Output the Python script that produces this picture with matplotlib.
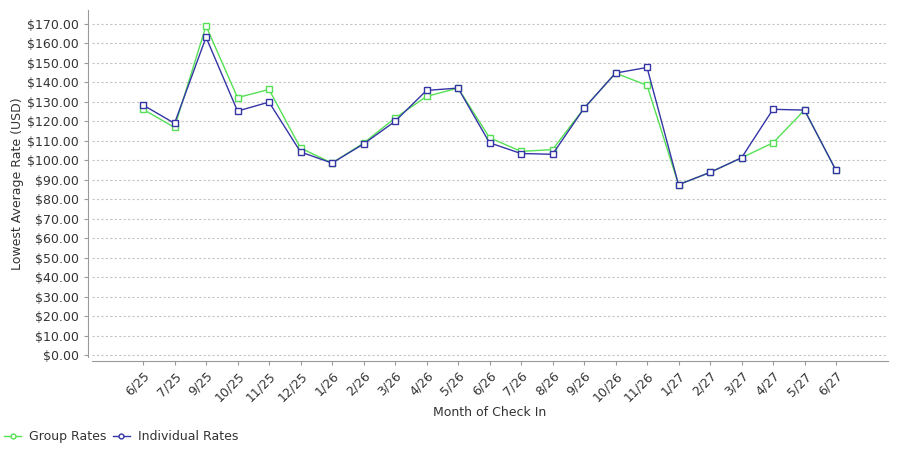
import matplotlib
matplotlib.use('Agg')
import matplotlib.pyplot as plt
from matplotlib.lines import Line2D
from matplotlib.ticker import FuncFormatter, MultipleLocator

months = ['6/25', '7/25', '9/25', '10/25', '11/25', '12/25', '1/26', '2/26', '3/26',
          '4/26', '5/26', '6/26', '7/26', '8/26', '9/26', '10/26', '11/26', '1/27',
          '2/27', '3/27', '4/27', '5/27', '6/27']
group_rates = [126.2, 116.9, 169.0, 132.2, 136.4, 106.3, 98.6, 108.8, 121.7,
               132.8, 137.1, 111.6, 104.6, 105.5, 126.7, 144.8, 138.5, 87.5,
               93.8, 101.3, 109.0, 125.8, 94.8]
individual_rates = [128.4, 119.0, 163.2, 125.3, 129.9, 104.3, 98.6, 108.4, 120.0,
                    135.9, 137.1, 109.0, 103.5, 103.1, 126.7, 144.8, 147.7, 87.5,
                    93.8, 101.3, 126.2, 125.8, 94.8]

plt.rcParams['font.family'] = 'DejaVu Sans'
plt.rcParams['font.size'] = 9

fig = plt.figure(figsize=(9, 4.5), dpi=100)
ax = fig.add_axes([92/900, 1 - 357/450, 796/900, 347/450])

x = list(range(len(months)))
green = '#55e055'
blue = '#3535a5'
ax.plot(x, group_rates, color=green, lw=1, marker='s', ms=4.5,
        mfc='white', mec=green, mew=1)
ax.plot(x, individual_rates, color=blue, lw=1, marker='s', ms=4.5,
        mfc='white', mec=blue, mew=1)

ax.set_xlim(-1.62, len(months) - 1 + 1.65)
ax.set_ylim(-1.0, 177.2)
ax.yaxis.set_major_locator(MultipleLocator(10))
ax.yaxis.set_major_formatter(FuncFormatter(lambda v, p: '${:,.2f}'.format(v)))
ax.set_xticks(x)
ax.set_xticklabels(months)

ax.grid(axis='y', color='#c4c4c4', linestyle=(0, (2, 2)), lw=0.8)
ax.set_axisbelow(True)
for s in ['top', 'right']:
    ax.spines[s].set_visible(False)
ax.spines['left'].set_position(('outward', 3))
ax.spines['bottom'].set_position(('outward', 3))
ax.spines['left'].set_color('#9a9a9a')
ax.spines['bottom'].set_color('#9a9a9a')
ax.tick_params(axis='both', colors='#9a9a9a', labelcolor='#333333', length=3, width=0.8)
ax.tick_params(axis='x', pad=3)
for lab in ax.get_xticklabels():
    lab.set_rotation(45)
    lab.set_ha('right')
    lab.set_va('top')
    lab.set_rotation_mode('anchor')

ax.set_ylabel('Lowest Average Rate (USD)', color='#333333', va='center')
ax.yaxis.set_label_coords(-0.093, 0.5)
ax.set_xlabel('Month of Check In', color='#333333', va='center')
ax.xaxis.set_label_coords(0.5, -0.161)

handles = [Line2D([], [], color=green, lw=1, marker='o', ms=3.5, mfc='white', mec=green),
           Line2D([], [], color=blue, lw=1, marker='o', ms=3.5, mfc='white', mec=blue)]
leg = fig.legend(handles, ['Group Rates', 'Individual Rates'], loc='lower left',
                 bbox_to_anchor=(-0.004, -0.002), ncol=2, frameon=False,
                 handlelength=1.4, handletextpad=0.6, columnspacing=0.5,
                 borderaxespad=0.2)
for t in leg.get_texts():
    t.set_color('#333333')

fig.savefig('out.png', dpi=100)
